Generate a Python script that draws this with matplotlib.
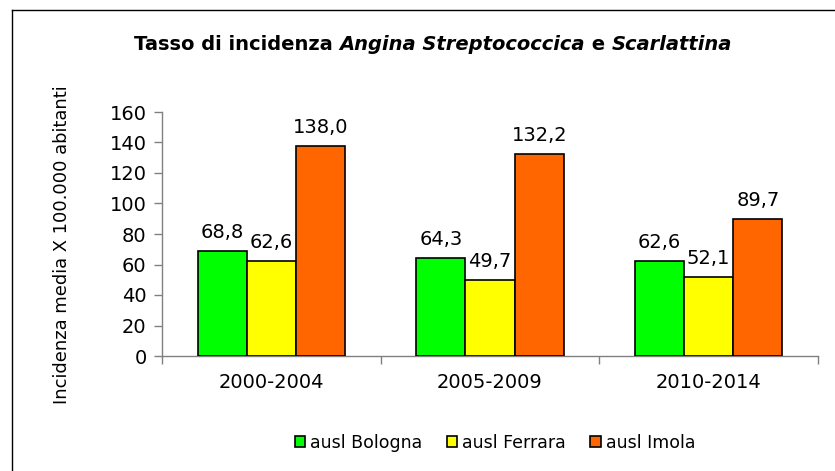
import numpy as np
import matplotlib
matplotlib.use('Agg')
import matplotlib.pyplot as plt
from matplotlib.lines import Line2D

# data
periods = ['2000-2004', '2005-2009', '2010-2014']
series = ['ausl Bologna', 'ausl Ferrara', 'ausl Imola']
bologna = [68.8, 64.3, 62.6]
ferrara = [62.6, 49.7, 52.1]
imola = [138.0, 132.2, 89.7]
colors = ['#00FF00', '#FFFF00', '#FF6600']

plt.rcParams['font.family'] = ['DejaVu Sans']

fig = plt.figure(figsize=(8.35, 4.71), dpi=100)
ax = fig.add_axes([162/835, 1-356/471, (818-162)/835, (356-112)/471])

x = np.arange(len(periods))
w = 0.225
for i, (vals, name) in enumerate(zip([bologna, ferrara, imola], series)):
    bars = ax.bar(x + (i-1)*w, vals, w, color=colors[i], edgecolor='black',
                  linewidth=1.2, label=name, zorder=3)
    for b, v in zip(bars, vals):
        ax.annotate(('%.1f' % v).replace('.', ','), (b.get_x()+b.get_width()/2, v),
                    xytext=(0, 6.5), textcoords='offset points',
                    ha='center', va='bottom', fontsize=14)

ax.set_xlim(-0.5, 2.5)
ax.set_ylim(0, 160)
ax.set_yticks(range(0, 161, 20))
ax.tick_params(axis='y', labelsize=14, color='#808080', length=6, width=1, pad=5)
ax.set_xticks(x)
ax.set_xticklabels(periods, fontsize=14)
ax.tick_params(axis='x', length=0, pad=12)
ax.set_xticks([-0.5, 0.5, 1.5, 2.5], minor=True)
ax.tick_params(axis='x', which='minor', length=6, color='#808080', width=1)
for s in ['top', 'right']:
    ax.spines[s].set_visible(False)
for s in ['left', 'bottom']:
    ax.spines[s].set_color('#808080')
    ax.spines[s].set_linewidth(1)

fig.text(62/835, 1-245/471, 'Incidenza media X 100.000 abitanti', rotation=90,
         ha='center', va='center', fontsize=12.9)

# title with mixed styles
pieces = [('Tasso di incidenza ', 'normal'), ('Angina Streptococcica', 'italic'),
          (' e ', 'normal'), ('Scarlattina', 'italic')]
r = fig.canvas.get_renderer()
texts = []
total = 0
for s, st in pieces:
    t = fig.text(0, 1-45/471, s, fontsize=14, fontweight='bold', style=st,
                 va='center', ha='left')
    wdt = t.get_window_extent(r).width
    texts.append((t, wdt))
    total += wdt
xpos = 433 - total/2
for t, wdt in texts:
    t.set_x(xpos/835)
    xpos += wdt

leg = ax.legend(loc='center', bbox_to_anchor=(495/835, 1-443/471),
                bbox_transform=fig.transFigure, ncol=3, frameon=False,
                fontsize=12.5, handlelength=0.6, handleheight=0.6,
                handletextpad=0.3, columnspacing=1.4)

# outer frame (left and top edges)
fig.add_artist(Line2D([12/835, 12/835], [0, 1-10/471], transform=fig.transFigure,
                      color='black', linewidth=1))
fig.add_artist(Line2D([12/835, 1], [1-10/471, 1-10/471], transform=fig.transFigure,
                      color='black', linewidth=1))

plt.savefig('out.png', dpi=100)
